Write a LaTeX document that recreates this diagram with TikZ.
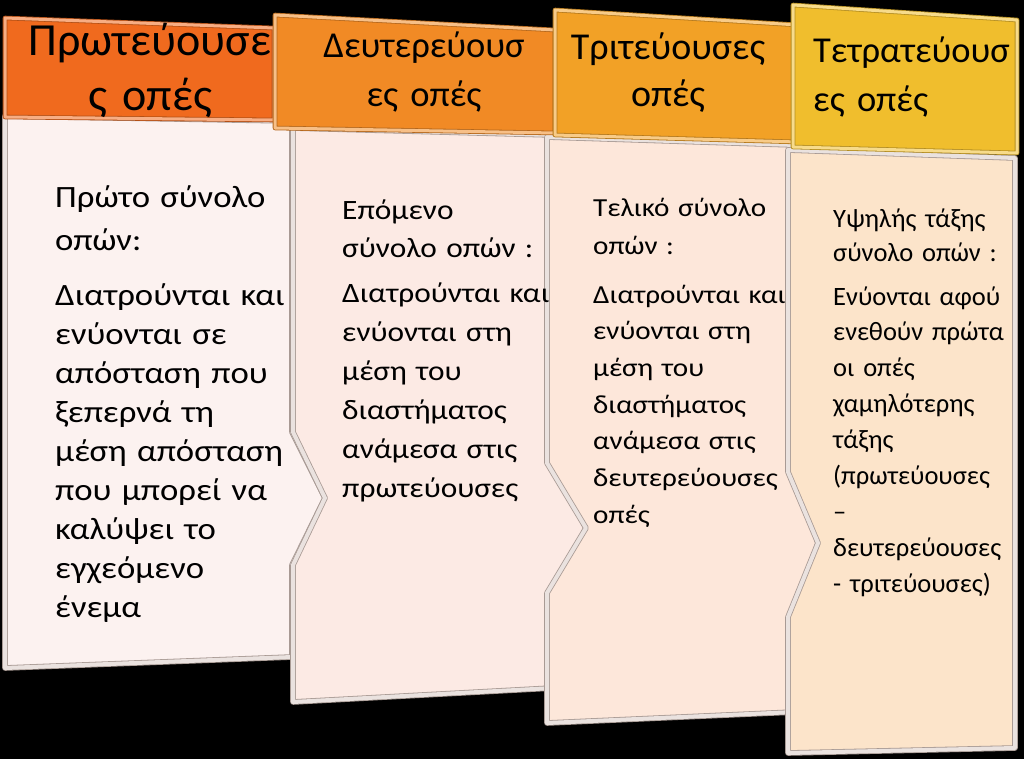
\documentclass[tikz,border=0pt]{standalone}
\usepackage{fontspec}
\setmainfont{Carlito}
\newfontfamily\widefont{Carlito}[FakeStretch=1.12]

\definecolor{headA}{HTML}{F06A1E}
\definecolor{headB}{HTML}{F18A25}
\definecolor{headC}{HTML}{F2A126}
\definecolor{headD}{HTML}{F0BE2D}
\definecolor{bodyA}{HTML}{FCF2F0}
\definecolor{bodyB}{HTML}{FCEAE4}
\definecolor{bodyC}{HTML}{FDE7DA}
\definecolor{bodyD}{HTML}{FCE4CA}
\definecolor{frame}{HTML}{A89A94}
\definecolor{frameface}{HTML}{EAE2DF}

\tikzset{
  head/.style={fill=#1,draw=#1!75!black,double=#1!55!white,double distance=3pt,line width=.8pt,line join=round},
  panel/.style={fill=#1,draw=frame,double=frameface,double distance=4pt,line width=.8pt,line join=round},
  htitle/.style={anchor=base,text width=#1,align=center,inner sep=0pt},
  lead/.style={anchor=base west,text width=#1,align=left,inner sep=0pt}
}

\begin{document}
\begin{tikzpicture}[x=1pt,y=-1pt]
\fill[black] (0,0) rectangle (1024,759);
\useasboundingbox (0,0) rectangle (1024,759);

% bodies, each with the chevron of its neighbour
\draw[panel=bodyA] (5,116) -- (292,121) -- (292,432) -- (325,498) -- (292,565) -- (292,657) -- (5,668) -- cycle;
\draw[panel=bodyB] (293,128) -- (553,135) -- (553,463) -- (586,528) -- (553,593) -- (553,688) -- (293,702)
    -- (293,565) -- (325,498) -- (293,432) -- cycle;
\draw[panel=bodyC] (547,137) -- (795,145) -- (795,472) -- (818,543) -- (795,617) -- (795,712) -- (547,723)
    -- (547,593) -- (586,528) -- (547,463) -- cycle;
\draw[panel=bodyD] (788,150) -- (1015,158) -- (1015,748) -- (788,753)
    -- (788,617) -- (818,543) -- (788,472) -- cycle;

% headers
\draw[head=headA] (5,18) -- (274,28) -- (274,120) -- (5,117) -- cycle;
\draw[head=headB] (275,15) -- (555,30) -- (555,133) -- (275,128) -- cycle;
\draw[head=headC] (555,10) -- (798,25) -- (798,142) -- (555,135) -- cycle;
\draw[head=headD] (793,5) -- (1017,20) -- (1017,153) -- (793,147) -- cycle;

\node[htitle=260pt,font=\fontsize{46}{55}\selectfont] (title1) at (150,56) {Πρωτεύουσε\\ς οπές};
\node[htitle=260pt,font=\fontsize{36.5}{49}\selectfont] (title2) at (424,58) {Δευτερεύουσ\\ες οπές};
\node[htitle=240pt,font=\fontsize{38}{47}\selectfont] (title3) at (668,60) {Τριτεύουσες\\οπές};
\node[lead=200pt,font=\fontsize{36.5}{49}\selectfont] (title4) at (813,63) {Τετρατεύουσ\\ες οπές};

\node[lead=250pt,font=\widefont\fontsize{31}{42}\selectfont] (set1) at (55,208) {Πρώτο σύνολο\\οπών:};
\node[lead=250pt,font=\widefont\fontsize{31}{39}\selectfont] (rule1) at (55,305)
    {Διατρούνται και\\ενύονται σε\\απόσταση που\\ξεπερνά τη\\μέση απόσταση\\που μπορεί να\\καλύψει το\\εγχεόμενο\\ένεμα};

\node[lead=240pt,font=\widefont\fontsize{28}{37}\selectfont] (set2) at (342,220) {Επόμενο\\σύνολο οπών :};
\node[lead=240pt,font=\widefont\fontsize{28}{39}\selectfont] (rule2) at (342,302)
    {Διατρούνται και\\ενύονται στη\\μέση του\\διαστήματος\\ανάμεσα στις\\πρωτεύουσες};

\node[lead=220pt,font=\widefont\fontsize{26}{38}\selectfont] (set3) at (593,217) {Τελικό σύνολο\\οπών :};
\node[lead=220pt,font=\widefont\fontsize{26}{36.7}\selectfont] (rule3) at (593,303)
    {Διατρούνται και\\ενύονται στη\\μέση του\\διαστήματος\\ανάμεσα στις\\δευτερεύουσες\\οπές};

\node[lead=180pt,font=\fontsize{26.5}{35}\selectfont] (set4) at (833,227) {Υψηλής τάξης\\σύνολο οπών :};
\node[lead=180pt,font=\fontsize{26.5}{35.9}\selectfont] (rule4) at (833,305)
    {Ενύονται αφού\\ενεθούν πρώτα\\οι οπές\\χαμηλότερης\\τάξης\\(πρωτεύουσες\\–\\δευτερεύουσες\\- τριτεύουσες)};
\end{tikzpicture}
\end{document}
